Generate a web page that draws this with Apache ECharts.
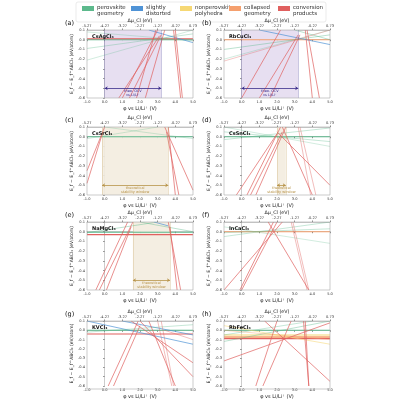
<!DOCTYPE html>
<html>
<head>
<meta charset="utf-8">
<script src="https://cdn.jsdelivr.net/npm/echarts@6/dist/echarts.min.js"></script>
<style>html,body{margin:0;padding:0;background:#fff}#chart{width:400px;height:400px}</style>
</head>
<body>
<div id="chart"></div>
<script>
// Panel titles and compound names
var panelLetters = ['(a)', '(b)', '(c)', '(d)', '(e)', '(f)', '(g)', '(h)'];
var compounds = ['CsAgCl\u2083', 'RbCuCl\u2083', 'CsSrCl\u2083', 'CsSnCl\u2083', 'NaMgCl\u2083', 'InCaCl\u2083', 'KVCl\u2083', 'RbFeCl\u2083'];

// Stability windows [from, to] in V (null = none) and window type
var windows = [[0.0, 3.2], [0.0, 3.2], [-0.15, 3.6], [2.0, 2.5], [1.6, 3.7], null, null, null];
var windowType = ['ocv', 'ocv', 'stab', 'stab', 'stab', null, null, null];

// Legend categories
var categories = ['perovskite\ngeometry', 'slightly\ndistorted', 'nonperovskite\npolyhedra', 'collapsed\ngeometry', 'conversion\nproducts'];
var catColors = ['#5cb98c', '#4f93d6', '#f6d874', '#f5a06e', '#e0605f'];

// Lines per panel: [category, x1, y1, x2, y2, strength]
var panelA = [
  [0, -1, 0.0, 5, 0.0, 1], [4, -1, 0.01, 5, 0.01, 1],
  [0, -1, -0.09, 5, 0.06, 0.5], [0, -1, -0.21, 5, 0.1, 0.4], [0, -1, 0.08, 5, -0.01, 0.4],
  [1, 2.5, 0.1, 5, -0.03, 1],
  [4, 1.0, -0.6, 3.0, 0.1, 1], [4, 1.4, -0.6, 3.2, 0.05, 1], [4, 1.8, -0.6, 2.9, 0.1, 1],
  [4, 2.3, -0.6, 3.4, 0.1, 1], [4, 0.8, -0.6, 3.1, 0.04, 1],
  [4, 3.9, 0.1, 4.3, -0.6, 1], [4, 4.0, 0.1, 4.4, -0.6, 1]
];
var panelB = [
  [3, -1, 0.0, 5, 0.0, 1],
  [0, -1, -0.1, 5, 0.05, 0.6], [0, -1, -0.2, 5, 0.1, 0.4], [0, 3, 0.1, 5, 0.0, 0.6],
  [1, 1, 0.1, 5, -0.05, 1],
  [4, -1, -0.22, 5, 0.1, 0.5],
  [4, 0.0, -0.6, 2.2, 0.1, 1], [4, 1.0, -0.6, 3.2, 0.05, 1], [4, 1.6, -0.6, 3.3, 0.05, 1],
  [4, 3.6, 0.1, 4.0, -0.6, 1], [4, 3.7, 0.1, 4.4, -0.6, 1]
];
var panelC = [
  [0, -1, 0.0, 5, 0.0, 1],
  [0, -1, -0.02, 3, 0.1, 0.4], [0, 0, 0.1, 5, -0.02, 0.4],
  [4, -1, -0.48, -0.1, 0.05, 1], [4, -1, -0.35, 0.0, 0.1, 1],
  [4, 3.4, 0.1, 5, -0.55, 1], [4, 3.5, 0.05, 4.2, -0.6, 1], [4, 3.6, 0.1, 4.0, -0.6, 1]
];
var panelD = [
  [0, -1, 0.0, 5, 0.0, 1],
  [0, -1, -0.03, 5, 0.09, 0.5], [0, -1, 0.05, 5, -0.05, 0.5], [0, -1, 0.1, 5, -0.1, 0.4],
  [4, 0.3, -0.6, 2.2, 0.1, 1], [4, 0.5, -0.6, 2.3, 0.05, 1], [4, -0.3, -0.6, 2.0, 0.03, 1],
  [4, 0.8, -0.6, 2.5, 0.1, 1],
  [4, 2.0, 0.05, 5, -0.5, 1], [4, 2.3, 0.1, 4.0, -0.6, 1], [4, 3.2, 0.1, 3.9, -0.6, 0.6],
  [4, 3.3, 0.1, 4.2, -0.6, 0.6]
];
var panelE = [
  [0, -1, -0.005, 5, -0.005, 1], [4, -1, -0.03, 5, -0.03, 1],
  [0, -1, -0.01, 3, 0.1, 0.6], [0, 2, 0.1, 5, 0.0, 0.6], [1, 2.8, 0.1, 3.6, 0.06, 1],
  [4, -0.5, -0.6, 1.3, 0.1, 1], [4, -0.3, -0.6, 1.6, 0.1, 1], [4, 0.1, -0.6, 1.5, 0.05, 1],
  [4, 3.6, 0.1, 4.3, -0.6, 1], [4, 3.7, 0.05, 4.1, -0.6, 1]
];
var panelF = [
  [3, -1, 0.0, 5, 0.0, 1],
  [0, -1, -0.05, 5, 0.1, 0.5], [0, -1, 0.05, 5, -0.12, 0.4], [0, -1, -0.01, 5, 0.03, 0.5],
  [4, -1, -0.6, 2.3, 0.1, 1], [4, -0.1, -0.6, 1.8, 0.1, 1], [4, 0.0, -0.6, 2.0, 0.1, 1],
  [4, 1.5, 0.1, 3.8, -0.6, 1], [4, 2.8, 0.1, 3.7, -0.6, 0.6], [4, 2.9, 0.1, 3.8, -0.6, 0.6]
];
var panelG = [
  [0, -1, 0.0, 5, 0.0, 1], [4, -1, -0.04, 5, -0.04, 1],
  [1, -1, 0.1, 5, -0.15, 1], [1, 1, 0.1, 5, -0.05, 1], [0, -1, -0.02, 5, 0.06, 0.5],
  [4, 0.2, -0.6, 1.9, 0.1, 1], [4, 0.5, -0.6, 2.0, 0.05, 1],
  [4, 1.5, 0.1, 5, -0.35, 1], [4, 2.0, 0.1, 5, -0.5, 1], [4, 2.5, 0.1, 4.0, -0.6, 1],
  [4, 3.0, 0.1, 3.8, -0.6, 0.6], [4, 3.2, 0.1, 3.9, -0.6, 0.6], [4, 3.4, 0.0, 5, -0.1, 0.6]
];
var panelH = [
  [0, -1, 0.0, 5, 0.0, 1], [2, -1, -0.05, 5, -0.05, 1], [3, -1, -0.07, 5, -0.07, 1],
  [3, -1, -0.08, 5, -0.08, 1], [4, -1, -0.09, 5, -0.09, 1],
  [0, -1, -0.12, 5, 0.1, 0.6], [0, -1, -0.05, 4, 0.1, 0.5],
  [2, -1, 0.05, 5, -0.15, 0.8], [3, -1, 0.0, 5, -0.1, 0.6],
  [4, -1, -0.33, 5, 0.08, 1], [4, 0.8, -0.6, 2.0, 0.1, 1], [4, 1.2, -0.6, 2.8, 0.1, 1],
  [4, 1.3, 0.1, 5, -0.55, 1], [4, 3.5, 0.1, 3.8, -0.6, 1], [4, 3.6, 0.1, 3.8, -0.6, 1]
];
var panels = [panelA, panelB, panelC, panelD, panelE, panelF, panelG, panelH];

var chart = echarts.init(document.getElementById('chart'));

var colLeft = [87, 224], gridW = 106, gridH = 68;
var rowTop = [30, 127, 222, 321];
var font = 'DejaVu Sans';

var grids = [], xAxes = [], yAxes = [], series = [], graphics = [];

// Legend box
graphics.push({type: 'rect', shape: {x: 76, y: 2, width: 250, height: 20, r: 2},
  style: {fill: '#fff', stroke: '#ddd', lineWidth: 0.6}});
categories.forEach(function(c, i) {
  var x0 = 82 + i * 49;
  graphics.push({type: 'rect', shape: {x: x0, y: 6, width: 12, height: 5}, style: {fill: catColors[i]}});
  graphics.push({type: 'text', x: x0 + 15, y: 5, style: {text: c, fontSize: 5.5, fontFamily: font, fill: '#333', lineHeight: 6}});
});

panels.forEach(function(lines, p) {
  var left = colLeft[p % 2], top = rowTop[Math.floor(p / 2)];
  grids.push({left: left, top: top, width: gridW, height: gridH});
  xAxes.push({gridIndex: p, type: 'value', min: -1, max: 5, interval: 1, position: 'bottom',
    name: '\u03c6 vs Li/Li\u207a (V)', nameLocation: 'middle', nameGap: 8,
    nameTextStyle: {fontSize: 5, fontFamily: font, color: '#222'},
    axisLine: {lineStyle: {color: '#aaa', width: 0.6}}, axisTick: {length: 1.5, lineStyle: {color: '#888'}},
    axisLabel: {fontSize: 3.6, margin: 2, color: '#333', formatter: function(v) { return v.toFixed(1); }},
    splitLine: {show: false}});
  xAxes.push({gridIndex: p, type: 'value', min: -1, max: 5, interval: 1, position: 'top',
    name: '\u0394\u03bc_Cl (eV)', nameLocation: 'middle', nameGap: 7,
    nameTextStyle: {fontSize: 4.8, fontFamily: font, color: '#222'},
    axisLine: {lineStyle: {color: '#aaa', width: 0.6}}, axisTick: {length: 1.5, lineStyle: {color: '#888'}},
    axisLabel: {fontSize: 3.6, margin: 2, color: '#333', formatter: function(v) { return (v - 4.27).toFixed(2); }},
    splitLine: {show: false}});
  yAxes.push({gridIndex: p, type: 'value', min: -0.6, max: 0.1, interval: 0.1,
    name: 'E_f \u2212 E_f^ABCl\u2083 (eV/atom)', nameLocation: 'middle', nameGap: 12,
    nameTextStyle: {fontSize: 4.5, fontFamily: font, color: '#222'},
    axisLine: {show: true, lineStyle: {color: '#aaa', width: 0.6}}, axisTick: {length: 1.5, lineStyle: {color: '#888'}},
    axisLabel: {fontSize: 3.6, margin: 2, color: '#333', formatter: function(v) { return v.toFixed(1); }},
    splitLine: {show: false}});
  // right border
  graphics.push({type: 'rect', shape: {x: left, y: top, width: gridW, height: gridH},
    style: {fill: 'none', stroke: '#aaa', lineWidth: 0.6}, z: 10});
  graphics.push({type: 'text', x: left - 22, y: top - 10, style: {text: panelLetters[p], fontSize: 6.5, fontFamily: font, fill: '#111'}});
  graphics.push({type: 'text', x: left + 5, y: top + 4, z: 20, style: {text: compounds[p], fontSize: 5, fontWeight: 'bold', fontFamily: font, fill: '#111'}});

  var w = windows[p];
  var wc = windowType[p] === 'ocv' ? '#e4dcef' : '#f3ecdf';
  var ac = windowType[p] === 'ocv' ? '#3b2e8c' : '#b8944a';
  var base = {type: 'line', xAxisIndex: 2 * p, yAxisIndex: p, data: [], symbol: 'none', silent: true};
  if (w) {
    base.markArea = {silent: true, itemStyle: {color: wc, opacity: 0.9},
      data: [[{xAxis: w[0], yAxis: -0.6}, {xAxis: w[1], yAxis: 0.1}]]};
    base.markLine = {silent: true, symbol: ['arrow', 'arrow'], symbolSize: 3, label: {show: false},
      lineStyle: {color: ac, width: 0.8, type: 'solid'},
      data: [[{coord: [w[0], -0.5]}, {coord: [w[1], -0.5]}],
        [{coord: [w[0], -0.6], symbol: 'none', lineStyle: {type: 'dotted', width: 0.5}}, {coord: [w[0], 0.1], symbol: 'none'}],
        [{coord: [w[1], -0.6], symbol: 'none', lineStyle: {type: 'dotted', width: 0.5}}, {coord: [w[1], 0.1], symbol: 'none'}]]};
    graphics.push({type: 'text', z: 20,
      x: left + (((w[0] + w[1]) / 2 + 1) / 6) * gridW, y: top + gridH * (0.6 / 0.7) + 1,
      style: {text: windowType[p] === 'ocv' ? 'theo. OCV\nvs Li/Li\u207a' : 'theoretical\nstability window',
        fontSize: 3.5, fontFamily: font, fill: ac, align: 'center', lineHeight: 4}});
  }
  series.push(base);
  lines.forEach(function(l) {
    series.push({type: 'line', xAxisIndex: 2 * p, yAxisIndex: p, symbol: 'none', silent: true,
      clip: true, animation: false,
      lineStyle: {color: catColors[l[0]], width: l[5] === 1 && l[2] === l[4] ? 1.1 : 0.7, opacity: l[5]},
      data: [[l[1], l[2]], [l[3], l[4]]]});
  });
});

chart.setOption({
  animation: false,
  textStyle: {fontFamily: font},
  grid: grids,
  xAxis: xAxes,
  yAxis: yAxes,
  series: series,
  graphic: graphics
});
</script>
</body>
</html>
